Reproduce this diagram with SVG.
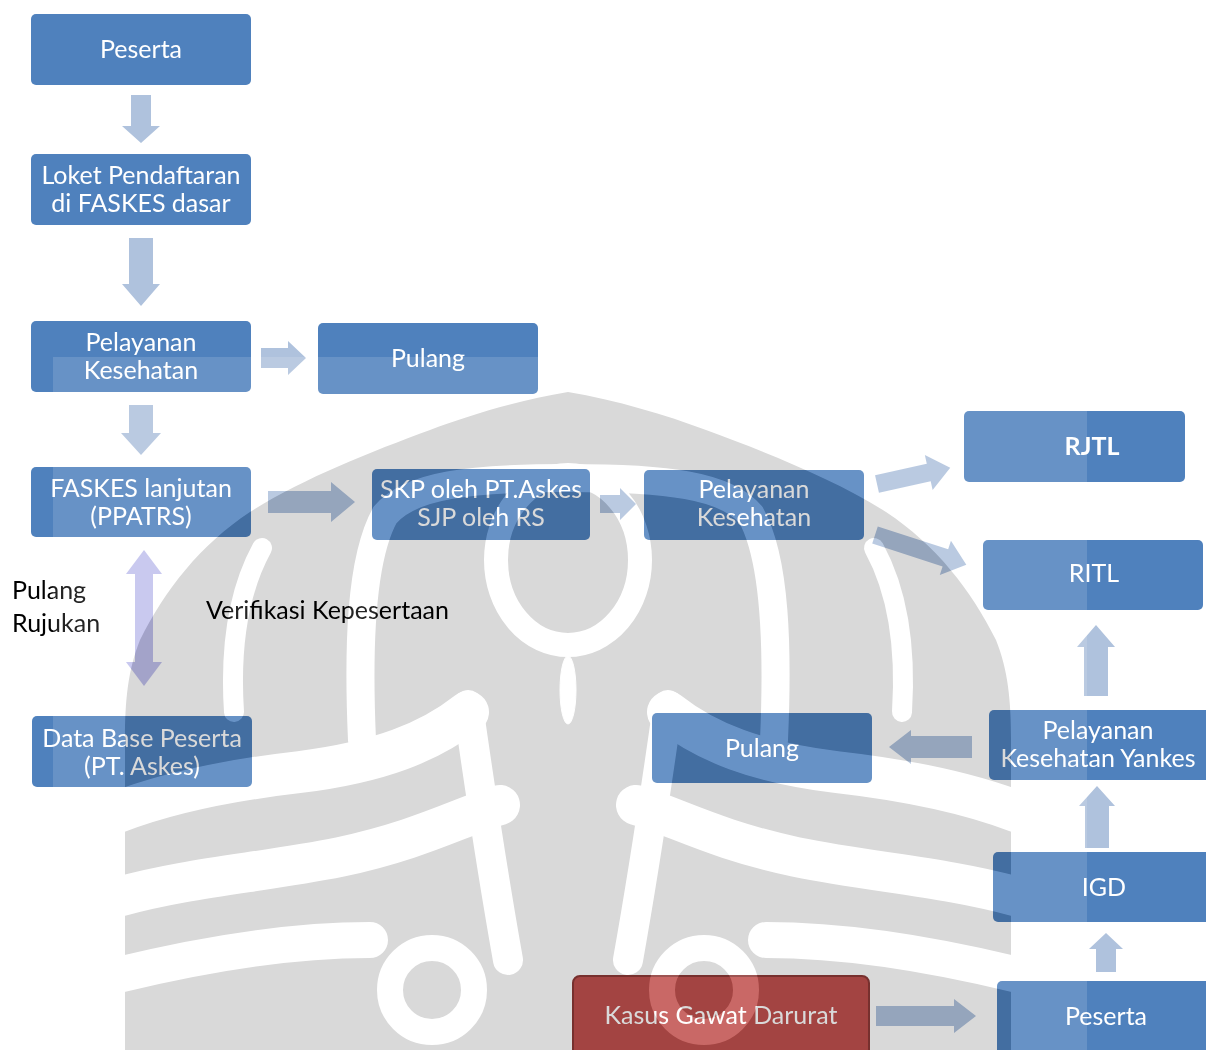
<svg xmlns="http://www.w3.org/2000/svg" width="1206" height="1050" viewBox="0 0 1206 1050">
<style>
.box{fill:#4F81BD}
.t{font-family:Lato,"Open Sans","Liberation Sans",sans-serif;font-size:25px;fill:#FFFFFF;text-anchor:middle}
.lbl{font-family:Lato,"Open Sans","Liberation Sans",sans-serif;font-size:25px;fill:#000}
.arr{fill:#AFC2DD}
.band{fill:none;stroke-linecap:round}
</style>
<defs>
<path id="wmS" d="M568,392 C520,400 470,415 430,430 C370,452 300,480 250,512 C200,545 165,590 140,640 C128,670 125,700 125,740 L125,1050 L1011,1050 L1011,740 C1011,700 1008,670 996,640 C971,590 936,545 886,512 C836,480 766,452 706,430 C666,415 616,400 568,392 Z"/>
<g id="wmHalf">
<path class="band" stroke-width="28" d="M568,478 C470,478 410,485 385,515 C360,560 358,650 362,740"/>
<path class="band" stroke-width="20" d="M262,548 C238,592 230,650 234,712"/>
<path class="band" stroke-width="42" d="M468,712 C430,742 380,762 300,772 C230,780 170,792 118,812"/>
<path class="band" stroke-width="40" d="M500,805 C460,817 420,840 340,857 C260,873 190,877 118,897"/>
<path class="band" stroke-width="36" d="M118,975 C200,955 290,940 370,940"/>
<path class="band" stroke-width="30" d="M468,705 C480,790 492,870 508,960"/>
<circle class="band" stroke-width="26" cx="432" cy="990" r="42"/>
</g>
<g id="wmB">
<use href="#wmHalf"/>
<use href="#wmHalf" transform="translate(1136,0) scale(-1,1)"/>
<ellipse class="band" stroke-width="24" cx="568" cy="560" rx="72" ry="85"/>
<ellipse cx="568" cy="690" rx="8" ry="34"/>
</g>
<mask id="lm" maskUnits="userSpaceOnUse" x="0" y="0" width="1206" height="1050">
<rect x="53" y="357" width="1034" height="693" fill="#fff"/>
<use href="#wmS" fill="#000"/>
<use href="#wmB" stroke="#fff" fill="#fff"/>
</mask>
</defs>
<rect width="1206" height="1050" fill="#fff"/>
<g id="connectors">
<polygon class="arr" points="131,95 151,95 151,126 160,126 141,143 122,126 131,126"/>
<polygon class="arr" points="129,238 153,238 153,284 160,284 141,306 122,284 129,284"/>
<polygon class="arr" points="261,348 288,348 288,341 306,358 288,375 288,368 261,368"/>
<polygon class="arr" points="129,405 153,405 153,433 161,433 141,455 121,433 129,433"/>
<polygon class="arr" points="268,491 331,491 331,482 355,502 331,522 331,513 268,513"/>
<polygon class="arr" points="600,495 620,495 620,488 636,504 620,520 620,513 600,513"/>
<polygon class="arr" transform="translate(877,484) rotate(-12.5)" points="0,-9 53,-9 53,-18 75,0 53,18 53,9 0,9"/>
<polygon class="arr" transform="translate(875,535) rotate(18)" points="0,-9 74,-9 74,-18 96,0 74,18 74,9 0,9"/>
<polygon fill="#C0C0ED" points="144,550 162,574 153,574 153,662 162,662 144,686 126,662 135,662 135,574 126,574"/>
<polygon class="arr" points="1096,625 1115,647 1108,647 1108,696 1084,696 1084,647 1077,647"/>
<polygon class="arr" points="889,747 911,730 911,736 972,736 972,758 911,758 911,764"/>
<polygon class="arr" points="1097,786 1115,806 1109,806 1109,848 1085,848 1085,806 1079,806"/>
<polygon class="arr" points="1106,933 1123,949 1116,949 1116,972 1096,972 1096,949 1089,949"/>
<polygon class="arr" points="876,1006 954,1006 954,999 976,1016 954,1033 954,1026 876,1026"/>
</g>
<g id="n-peserta"><rect class="box" x="31" y="14" width="220" height="71" rx="5"/><text class="t" x="141" y="58">Peserta</text></g>
<g id="n-loket"><rect class="box" x="31" y="154" width="220" height="71" rx="5"/><text class="t" x="141" y="184">Loket Pendaftaran</text><text class="t" x="141" y="212">di FASKES dasar</text></g>
<g id="n-pelayanan1"><rect class="box" x="31" y="321" width="220" height="71" rx="5"/><text class="t" x="141" y="351">Pelayanan</text><text class="t" x="141" y="379">Kesehatan</text></g>
<g id="n-pulang1"><rect class="box" x="318" y="323" width="220" height="71" rx="5"/><text class="t" x="428" y="367">Pulang</text></g>
<g id="n-faskes"><rect class="box" x="31" y="467" width="220" height="70" rx="5"/><text class="t" x="141" y="497">FASKES lanjutan</text><text class="t" x="141" y="525">(PPATRS)</text></g>
<g id="n-skp"><rect class="box" x="372" y="469" width="218" height="71" rx="5"/><text class="t" x="481" y="498">SKP oleh PT.Askes</text><text class="t" x="481" y="526">SJP oleh RS</text></g>
<g id="n-pelayanan2"><rect class="box" x="644" y="470" width="220" height="70" rx="5"/><text class="t" x="754" y="498">Pelayanan</text><text class="t" x="754" y="526">Kesehatan</text></g>
<g id="n-rjtl"><rect class="box" x="964" y="411" width="221" height="71" rx="5"/><text class="t" x="1092" y="455" font-weight="bold">RJTL</text></g>
<g id="n-ritl"><rect class="box" x="983" y="540" width="220" height="70" rx="5"/><text class="t" x="1094" y="582">RITL</text></g>
<g id="n-database"><rect class="box" x="32" y="716" width="220" height="71" rx="5"/><text class="t" x="142" y="747">Data Base Peserta</text><text class="t" x="142" y="775">(PT. Askes)</text></g>
<g id="n-pulang2"><rect class="box" x="652" y="713" width="220" height="70" rx="5"/><text class="t" x="762" y="757">Pulang</text></g>
<g id="n-yankes"><rect class="box" x="989" y="710" width="222" height="70" rx="5"/><text class="t" x="1098" y="739">Pelayanan</text><text class="t" x="1098" y="767">Kesehatan Yankes</text></g>
<g id="n-igd"><rect class="box" x="993" y="852" width="218" height="70" rx="5"/><text class="t" x="1104" y="896">IGD</text></g>
<g id="n-peserta2"><rect class="box" x="997" y="981" width="214" height="75" rx="5"/><text class="t" x="1106" y="1025">Peserta</text></g>
<g id="n-kasus"><rect x="573" y="976" width="296" height="80" rx="7" fill="#C0504D" stroke="#8C3836" stroke-width="2"/><text class="t" x="721" y="1024">Kasus Gawat Darurat</text></g>
<g id="labels">
<text class="lbl" x="12" y="599">Pulang</text>
<text class="lbl" x="12" y="632">Rujukan</text>
<text class="lbl" x="206" y="619">Verifikasi Kepesertaan</text>
</g>
<g id="watermark">
<rect x="53" y="357" width="1034" height="693" fill="#fff" fill-opacity="0.14" mask="url(#lm)"/>
<g style="mix-blend-mode:multiply">
<use href="#wmS" fill="#D9D9D9"/>
<use href="#wmB" stroke="#fff" fill="#fff"/>
</g>
</g>
</svg>
